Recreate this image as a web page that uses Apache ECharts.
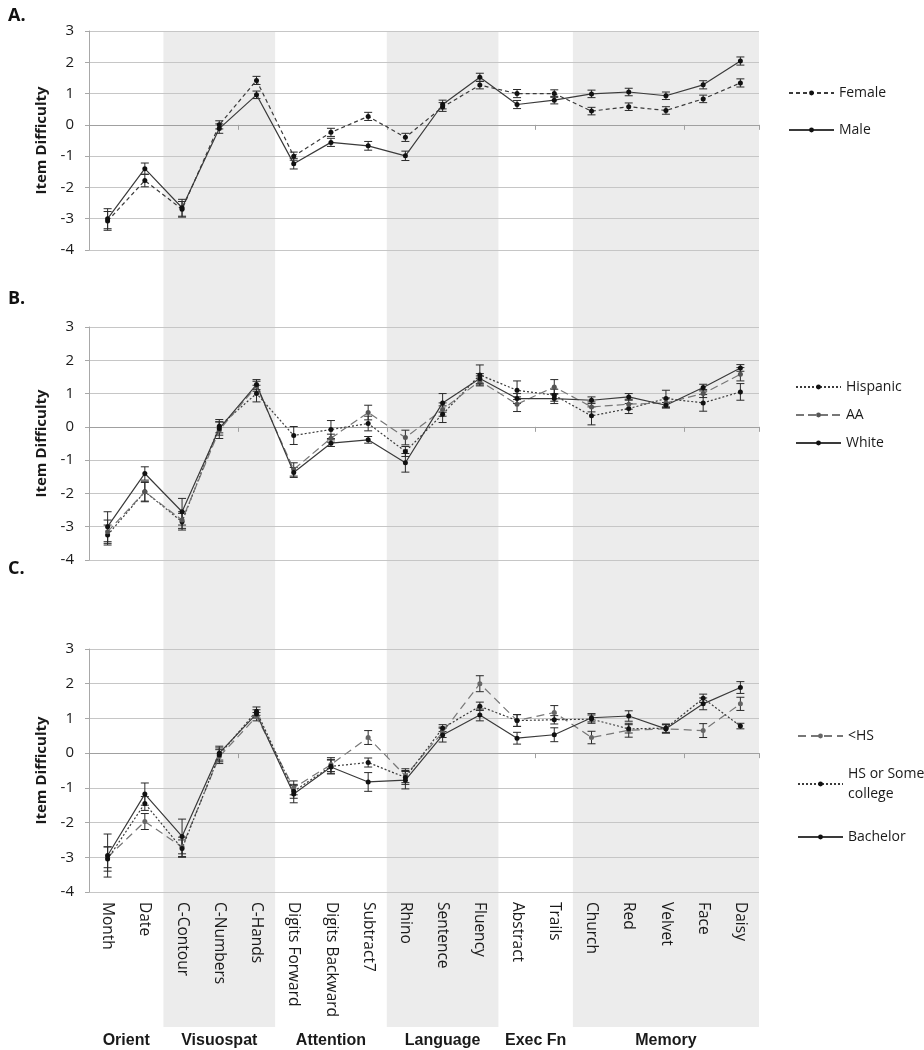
<!DOCTYPE html>
<html><head><meta charset="utf-8">
<script src="https://cdn.jsdelivr.net/npm/echarts@6/dist/echarts.min.js"></script>
<style>html,body{margin:0;padding:0;background:#fff}#c{width:924px;height:1050px}</style>
</head><body><div id="c"></div><script>
// ---------- data ----------
const categories = ['Month','Date','C-Contour','C-Numbers','C-Hands','Digits Forward','Digits Backward','Subtract7','Rhino','Sentence','Fluency','Abstract','Trails','Church','Red','Velvet','Face','Daisy'];
const groupNames  = ['Orient','Visuospat','Attention','Language','Exec Fn','Memory'];
const groupStart  = [0, 2, 5, 8, 11, 13];
const groupEnd    = [2, 5, 8, 11, 13, 18];
const groupShaded = [false, true, false, true, false, true];
const yTicks = [-4, 3, 1]; // min, max, interval

// Panel A
const female    = [-3.07,-1.78,-2.70, 0.00, 1.42,-1.00,-0.24, 0.27,-0.40, 0.57, 1.27, 1.00, 1.00, 0.44, 0.58, 0.46, 0.83, 1.34];
const femaleErr = [ 0.30, 0.20, 0.25, 0.13, 0.13, 0.13, 0.13, 0.13, 0.13, 0.14, 0.12, 0.13, 0.12, 0.12, 0.12, 0.12, 0.12, 0.13];
const male      = [-3.00,-1.40,-2.65,-0.12, 0.96,-1.24,-0.56,-0.67,-0.99, 0.65, 1.52, 0.65, 0.79, 0.99, 1.05, 0.93, 1.28, 2.04];
const maleErr   = [ 0.32, 0.18, 0.27, 0.15, 0.12, 0.17, 0.13, 0.14, 0.15, 0.14, 0.13, 0.13, 0.12, 0.12, 0.12, 0.12, 0.13, 0.13];
// Panel B
const hispanic    = [-3.25,-1.95,-2.85, 0.02, 1.00,-0.26,-0.08, 0.10,-0.74, 0.38, 1.56, 1.10, 0.95, 0.33, 0.55, 0.85, 0.72, 1.05];
const hispanicErr = [ 0.30, 0.28, 0.25, 0.20, 0.25, 0.27, 0.27, 0.22, 0.15, 0.25, 0.30, 0.28, 0.18, 0.27, 0.15, 0.25, 0.25, 0.25];
const aa          = [-3.15,-1.95,-2.80,-0.10, 1.22,-1.28,-0.34, 0.43,-0.32, 0.52, 1.38, 0.68, 1.20, 0.60, 0.68, 0.72, 1.00, 1.58];
const aaErr       = [ 0.35, 0.30, 0.25, 0.25, 0.15, 0.20, 0.12, 0.22, 0.22, 0.20, 0.15, 0.22, 0.22, 0.15, 0.15, 0.15, 0.12, 0.20];
const white       = [-3.00,-1.40,-2.55,-0.05, 1.27,-1.37,-0.49,-0.39,-1.08, 0.72, 1.45, 0.85, 0.85, 0.80, 0.90, 0.65, 1.18, 1.77];
const whiteErr    = [ 0.45, 0.20, 0.40, 0.20, 0.15, 0.15, 0.10, 0.10, 0.28, 0.28, 0.15, 0.15, 0.15, 0.10, 0.10, 0.08, 0.10, 0.10];
// Panel C
const lessHS      = [-3.00,-1.97,-2.70,-0.10, 1.05,-1.00,-0.33, 0.45,-0.65, 0.60, 2.00, 0.94, 1.17, 0.45, 0.66, 0.70, 0.65, 1.42];
const lessHSErr   = [ 0.30, 0.23, 0.28, 0.20, 0.12, 0.20, 0.20, 0.20, 0.20, 0.15, 0.23, 0.17, 0.20, 0.18, 0.20, 0.12, 0.20, 0.19];
const hsSome      = [-3.05,-1.45,-2.75,-0.05, 1.21,-1.10,-0.38,-0.27,-0.70, 0.72, 1.35, 0.94, 0.96, 0.98, 0.70, 0.72, 1.58, 0.78];
const hsSomeErr   = [ 0.35, 0.20, 0.25, 0.20, 0.12, 0.20, 0.20, 0.13, 0.20, 0.10, 0.12, 0.17, 0.12, 0.12, 0.12, 0.12, 0.12, 0.08];
const bachelor    = [-2.95,-1.18,-2.40, 0.00, 1.13,-1.18,-0.40,-0.83,-0.78, 0.52, 1.10, 0.43, 0.53, 1.02, 1.07, 0.70, 1.42, 1.89];
const bachelorErr = [ 0.62, 0.32, 0.50, 0.20, 0.12, 0.25, 0.20, 0.27, 0.25, 0.20, 0.17, 0.17, 0.20, 0.12, 0.15, 0.12, 0.17, 0.17];

// ---------- chart ----------
const FONT = "'Open Sans', 'Liberation Sans', sans-serif";
const chart = echarts.init(document.getElementById('c'), null, {renderer: 'canvas'});

const grids = [
  {left: 89, right: 165, top: 31, bottom: 800},
  {left: 89, right: 165, top: 327, bottom: 490},
  {left: 89, right: 165, top: 649, bottom: 158},
  {left: 89, right: 165, top: 31, bottom: 23}   // background shading grid
];

function yAxis(i) {
  return {
    type: 'value', gridIndex: i, min: yTicks[0], max: yTicks[1], interval: yTicks[2],
    axisLine: {show: true, lineStyle: {color: '#a8a8a8'}},
    axisTick: {show: true, length: 4, lineStyle: {color: '#a8a8a8'}},
    axisLabel: {fontSize: 15, color: '#1a1a1a', margin: 15, fontFamily: FONT},
    splitLine: {show: true, lineStyle: {color: '#c6c6c6', width: 1}},
    name: 'Item Difficulty', nameLocation: 'middle', nameRotate: 90, nameGap: 32,
    nameTextStyle: {fontWeight: 'bold', fontSize: 15, color: '#1a1a1a', fontFamily: FONT}
  };
}
function zeroAxis(i) {
  return {
    type: 'category', gridIndex: i, data: categories, boundaryGap: true, position: 'bottom',
    axisLine: {show: true, onZero: true, lineStyle: {color: '#a0a0a0'}},
    axisTick: {show: true, length: 5, alignWithLabel: false, lineStyle: {color: '#a0a0a0'}},
    axisLabel: {show: false}, splitLine: {show: false}
  };
}

const xAxes = [zeroAxis(0), zeroAxis(1), zeroAxis(2),
  { // category labels for panel C, at the bottom
    type: 'category', gridIndex: 2, data: categories, position: 'bottom',
    axisLine: {show: false, onZero: false}, axisTick: {show: false},
    axisLabel: {show: true, rotate: -90, interval: 0, margin: 10, fontSize: 15.5, color: '#1a1a1a', fontFamily: FONT},
    splitLine: {show: false}
  },
  { // group labels + shading scale
    type: 'value', gridIndex: 3, min: 0, max: categories.length, interval: 0.5, position: 'bottom',
    axisLine: {show: false, onZero: false}, axisTick: {show: false}, splitLine: {show: false},
    axisLabel: {
      show: true, inside: false, margin: 6, fontSize: 16, fontWeight: 'bold', color: '#1a1a1a',
      fontFamily: "'Liberation Sans Narrow', 'Liberation Sans', sans-serif",
      showMinLabel: false, showMaxLabel: false,
      formatter: function (v) {
        for (let g = 0; g < groupNames.length; g++) {
          if (Math.abs((groupStart[g] + groupEnd[g]) / 2 - v) < 1e-6) return groupNames[g];
        }
        return '';
      }
    }
  }
];
const yAxes = [yAxis(0), yAxis(1), yAxis(2),
  {type: 'value', gridIndex: 3, min: 0, max: 1, show: false}];

function lineSeries(name, vals, idx, dash, lineColor, markerColor) {
  return {
    type: 'line', name: name, xAxisIndex: idx, yAxisIndex: idx, data: vals,
    symbol: 'circle', symbolSize: 5, showSymbol: true,
    lineStyle: {color: lineColor, width: 1.2, type: dash},
    itemStyle: {color: markerColor},
    z: 5, silent: true, animation: false
  };
}
function errSeries(name, vals, errs, idx) {
  return {
    type: 'custom', name: name + ' error', xAxisIndex: idx, yAxisIndex: idx,
    data: vals.map((v, i) => [i, v - errs[i], v + errs[i]]),
    encode: {x: 0, y: [1, 2]},
    renderItem: function (params, api) {
      const lo = api.coord([api.value(0), api.value(1)]);
      const hi = api.coord([api.value(0), api.value(2)]);
      const w = 4;
      const st = {stroke: '#2a2a2a', lineWidth: 1};
      return {type: 'group', children: [
        {type: 'line', shape: {x1: lo[0], y1: lo[1], x2: hi[0], y2: hi[1]}, style: st},
        {type: 'line', shape: {x1: hi[0] - w, y1: hi[1], x2: hi[0] + w, y2: hi[1]}, style: st},
        {type: 'line', shape: {x1: lo[0] - w, y1: lo[1], x2: lo[0] + w, y2: lo[1]}, style: st}
      ]};
    },
    z: 4, silent: true, animation: false
  };
}

const DARK = '#3a3a3a', GRAY = '#777777';
const series = [
  { // background shading bands
    type: 'custom', xAxisIndex: 4, yAxisIndex: 3, z: -10, silent: true, animation: false,
    data: groupNames.map((n, g) => [groupStart[g], groupEnd[g], groupShaded[g] ? 1 : 0]).filter(d => d[2] === 1),
    encode: {x: [0, 1]},
    renderItem: function (params, api) {
      const a = api.coord([api.value(0), 1]);
      const b = api.coord([api.value(1), 0]);
      return {type: 'rect', shape: {x: a[0], y: a[1], width: b[0] - a[0], height: b[1] - a[1]}, style: {fill: '#ececec'}};
    }
  },
  errSeries('Female', female, femaleErr, 0), errSeries('Male', male, maleErr, 0),
  lineSeries('Female', female, 0, [4, 3], DARK, '#111'),
  lineSeries('Male', male, 0, 'solid', DARK, '#111'),
  errSeries('Hispanic', hispanic, hispanicErr, 1), errSeries('AA', aa, aaErr, 1), errSeries('White', white, whiteErr, 1),
  lineSeries('Hispanic', hispanic, 1, [2, 2], DARK, '#111'),
  lineSeries('AA', aa, 1, [8, 4], GRAY, '#555'),
  lineSeries('White', white, 1, 'solid', DARK, '#111'),
  errSeries('<HS', lessHS, lessHSErr, 2), errSeries('HS or Some college', hsSome, hsSomeErr, 2), errSeries('Bachelor', bachelor, bachelorErr, 2),
  lineSeries('<HS', lessHS, 2, [8, 5], GRAY, '#666'),
  lineSeries('HS or Some college', hsSome, 2, [2, 2], DARK, '#111'),
  lineSeries('Bachelor', bachelor, 2, 'solid', DARK, '#111')
];

function legend(names, left, top, gap, extra) {
  return Object.assign({
    data: names, orient: 'vertical', left: left, top: top, itemGap: gap,
    itemWidth: 45, itemHeight: 6, selectedMode: false,
    textStyle: {fontSize: 14, color: '#1a1a1a', fontFamily: FONT}
  }, extra || {});
}

const option = {
  animation: false,
  backgroundColor: '#fff',
  title: [
    {text: 'A.', left: 3, top: 2, textStyle: {fontSize: 18, fontWeight: 'bold', color: '#111', fontFamily: FONT}},
    {text: 'B.', left: 3, top: 285, textStyle: {fontSize: 18, fontWeight: 'bold', color: '#111', fontFamily: FONT}},
    {text: 'C.', left: 3, top: 555, textStyle: {fontSize: 18, fontWeight: 'bold', color: '#111', fontFamily: FONT}}
  ],
  legend: [
    legend(['Female', 'Male'], 783, 81, 23),
    legend(['Hispanic', 'AA', 'White'], 790, 375, 14),
    legend(['<HS'], 792, 724, 0),
    legend(['HS or Some college'], 792, 749, 0, {formatter: function (n) { return 'HS or Some\ncollege'; },
      textStyle: {fontSize: 14, color: '#1a1a1a', fontFamily: FONT, lineHeight: 20, padding: [20, 0, 0, 0]}}),
    legend(['Bachelor'], 792, 825, 0)
  ],
  grid: grids,
  xAxis: xAxes,
  yAxis: yAxes,
  series: series
};
chart.setOption(option);
</script></body></html>
